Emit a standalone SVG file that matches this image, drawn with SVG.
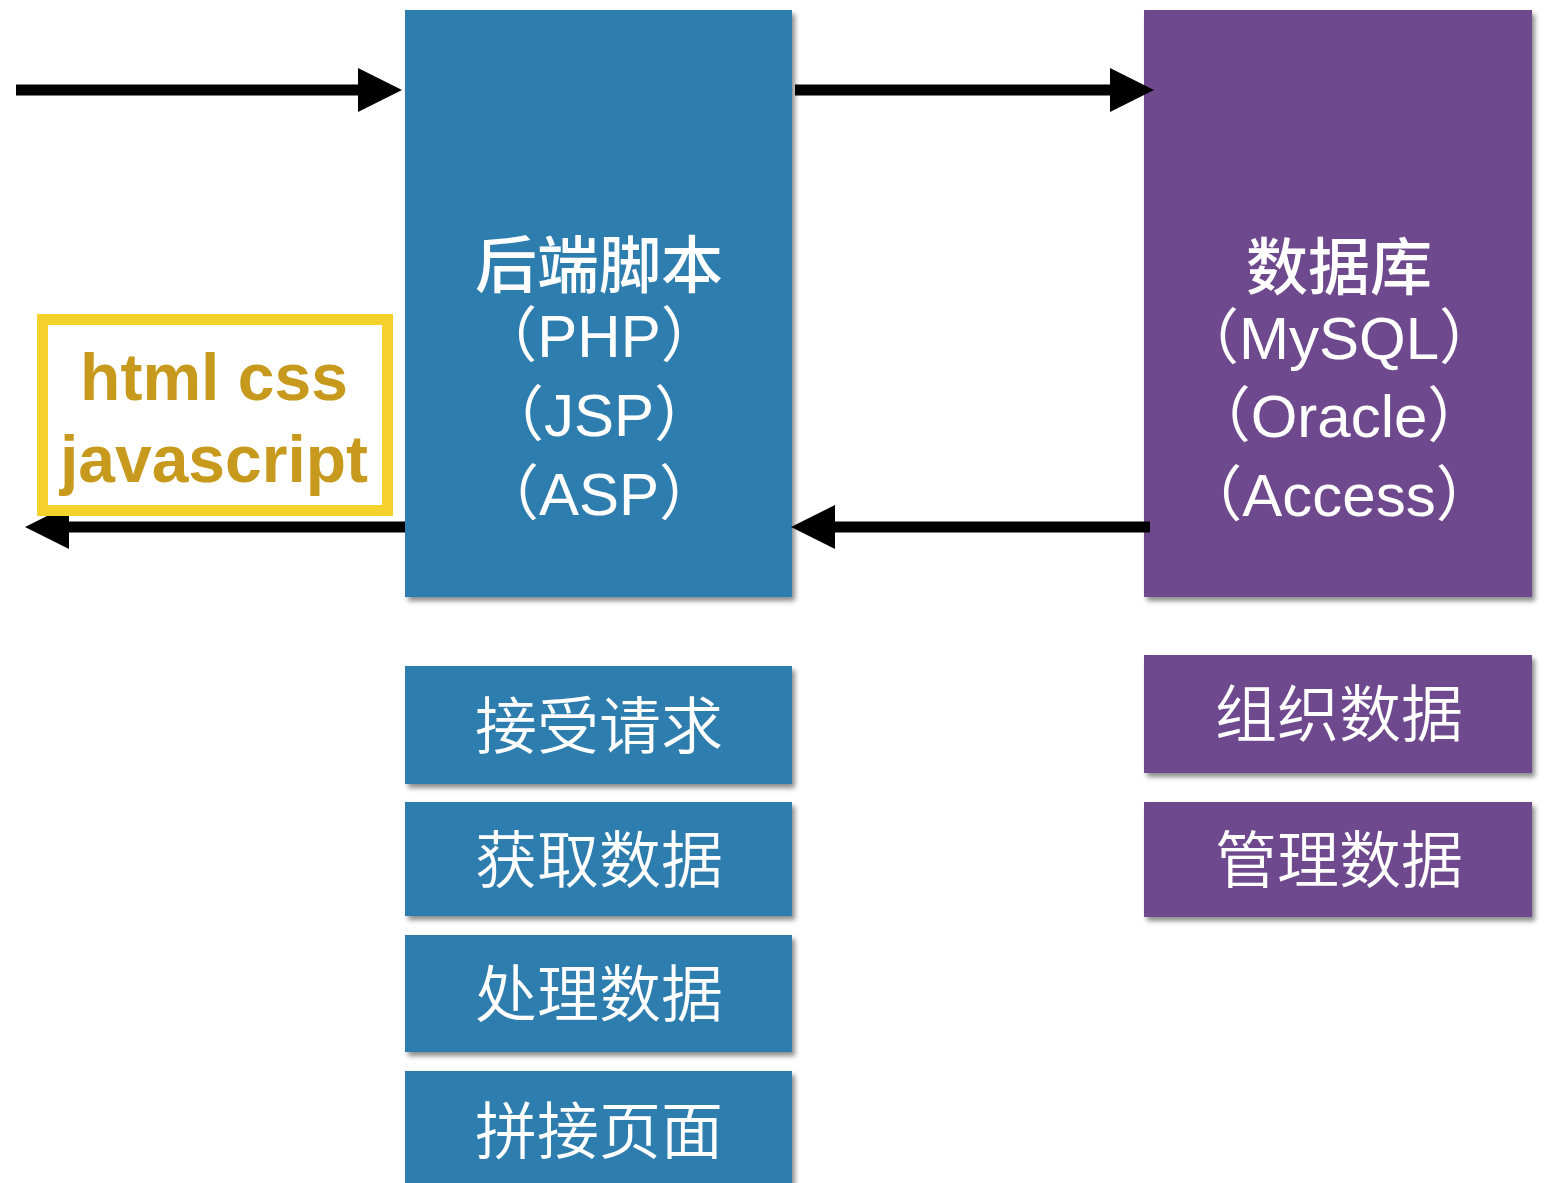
<svg xmlns="http://www.w3.org/2000/svg" width="1552" height="1183" viewBox="0 0 1552 1183">
<style>
.blue{fill:#2F7DAF}
.purple{fill:#6E4A8E}
.cjk{font-family:"Noto Sans CJK SC",sans-serif;fill:#fff;text-anchor:middle}
.lat{font-family:"Liberation Sans","Noto Sans CJK SC",sans-serif;fill:#fff;text-anchor:middle;font-size:60px}
.title{font-size:62px;font-weight:500}
.item{font-size:62px;font-weight:350}
.lbl{font-family:"Liberation Sans",Arial,sans-serif;font-weight:bold;font-size:66px;fill:#C79A1E;text-anchor:middle}
.line{stroke:#000;stroke-width:11;fill:none}
.head{fill:#000}
</style>
<defs>
<filter id="sh" x="-5%" y="-5%" width="112%" height="115%">
<feDropShadow dx="3" dy="4" stdDeviation="2.5" flood-color="#000" flood-opacity="0.45"/>
</filter>
</defs>
<rect width="1552" height="1183" fill="#fff"/>
<g id="backend">
<rect class="blue" x="405" y="10" width="387" height="587" filter="url(#sh)"/>
<text class="cjk title" x="599" y="288">后端脚本</text>
<text class="lat" x="599" y="357">（PHP）</text>
<text class="lat" x="599" y="436">（JSP）</text>
<text class="lat" x="599" y="515">（ASP）</text>
</g>
<g id="database">
<rect class="purple" x="1144" y="10" width="388" height="587" filter="url(#sh)"/>
<text class="cjk title" x="1339" y="290">数据库</text>
<text class="lat" x="1339" y="359">（MySQL）</text>
<text class="lat" x="1339" y="437">（Oracle）</text>
<text class="lat" x="1339" y="516">（Access）</text>
</g>
<g id="step-receive">
<rect class="blue" x="405" y="666" width="387" height="118" filter="url(#sh)"/>
<text class="cjk item" x="599" y="749">接受请求</text>
</g>
<g id="step-fetch">
<rect class="blue" x="405" y="802" width="387" height="114" filter="url(#sh)"/>
<text class="cjk item" x="599" y="883">获取数据</text>
</g>
<g id="step-process">
<rect class="blue" x="405" y="935" width="387" height="117" filter="url(#sh)"/>
<text class="cjk item" x="599" y="1017">处理数据</text>
</g>
<g id="step-render">
<rect class="blue" x="405" y="1071" width="387" height="130" filter="url(#sh)"/>
<text class="cjk item" x="599" y="1154">拼接页面</text>
</g>
<g id="db-organize">
<rect class="purple" x="1144" y="655" width="388" height="118" filter="url(#sh)"/>
<text class="cjk item" x="1339" y="737">组织数据</text>
</g>
<g id="db-manage">
<rect class="purple" x="1144" y="802" width="388" height="115" filter="url(#sh)"/>
<text class="cjk item" x="1339" y="883">管理数据</text>
</g>
<g id="connectors">
<line class="line" x1="16" y1="90" x2="360" y2="90"/>
<polygon class="head" points="358,68 402,90 358,112"/>
<line class="line" x1="795" y1="90" x2="1112" y2="90"/>
<polygon class="head" points="1110,68 1154,90 1110,112"/>
<line class="line" x1="1150" y1="527" x2="833" y2="527"/>
<polygon class="head" points="835,505 791,527 835,549"/>
<line class="line" x1="405" y1="527" x2="67" y2="527"/>
<polygon class="head" points="69,505 25,527 69,549"/>
</g>
<g id="client-label">
<rect x="42.5" y="319.5" width="345" height="191" fill="#fff" stroke="#F5D22B" stroke-width="11"/>
<text class="lbl" x="214" y="400">html css</text>
<text class="lbl" x="214" y="482">javascript</text>
</g>
</svg>
